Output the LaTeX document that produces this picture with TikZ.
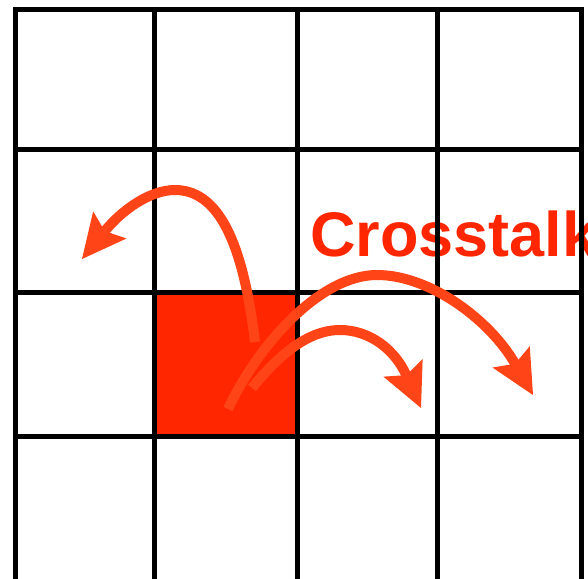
\documentclass[tikz,border=0pt]{standalone}
\usepackage{fontspec}
\newfontfamily\labelfont{Liberation Sans}
\usetikzlibrary{arrows.meta}
\definecolor{cellred}{HTML}{FF2600}
\definecolor{xtalkred}{HTML}{FF4418}

\begin{document}
\begin{tikzpicture}[
  x=1pt, y=-1pt,
  >={Stealth[length=44pt, width=43pt, inset=8pt, line width=0pt]},
  grid/.style={draw=black, line width=5pt, line cap=rect},
  hotcell/.style={rectangle, fill=cellred, minimum width=143.5pt,
                  minimum height=144pt, inner sep=0pt},
  xtalk/.style={->, draw=xtalkred, line width=10pt},
  tag/.style={font=\labelfont\bfseries\fontsize{63}{70}\selectfont,
              text=cellred, anchor=base west, inner sep=0pt}
]
\useasboundingbox (0,0) rectangle (588,578);
% --- aggressor cell and label ---
\node[hotcell] (src) at (225.75,364) {};
\node[tag] (lbl) at (310,256.7) {Crosstalk};
% --- pixel grid ---
\foreach \gx in {15,154,297.5,437,581}
  \draw[grid] (\gx,9.5) -- (\gx,578);
\foreach \gy in {9.5,149,292,436}
  \draw[grid] (15,\gy) -- (581,\gy);
% --- crosstalk arrows ---
\coordinate (s1) at (255,342); \coordinate (t1) at (82,259);
\coordinate (s2) at (252,388); \coordinate (t2) at (421,408);
\coordinate (s3) at (228,409); \coordinate (t3) at (533,395);
\draw[xtalk] (s1) .. controls (245,260) and (225,190) .. (175,190)
                  .. controls (150,190) and (122,210) .. (t1);
\draw[xtalk] (s2) .. controls (275,360) and (305,330) .. (340,330)
                  .. controls (370,330) and (395,350) .. (t2);
\draw[xtalk] (s3) .. controls (258,345) and (320,275) .. (377,275)
                  .. controls (430,275) and (490,320) .. (t3);
\end{tikzpicture}
\end{document}
